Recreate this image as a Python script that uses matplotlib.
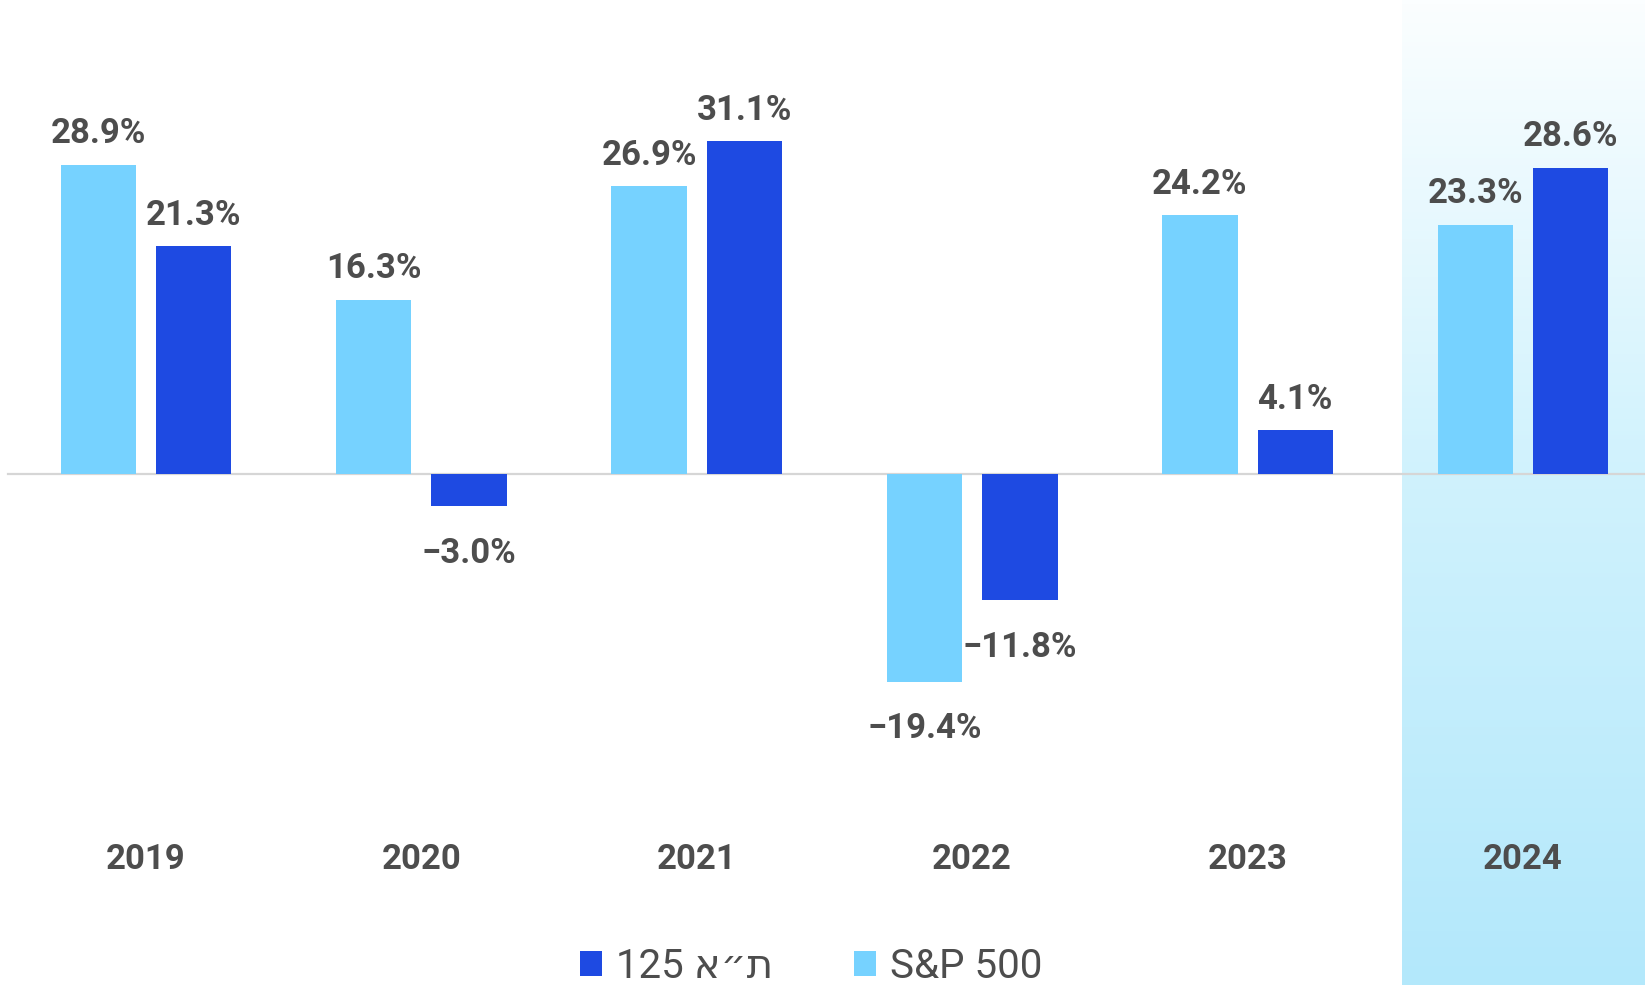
import numpy as np
import matplotlib.pyplot as plt
from matplotlib.colors import LinearSegmentedColormap

years = ['2019', '2020', '2021', '2022', '2023', '2024']
sp500 = [28.9, 16.3, 26.9, -19.4, 24.2, 23.3]
ta125 = [21.3, -3.0, 31.1, -11.8, 4.1, 28.6]
series_names = ['125 א״ת', 'S&P 500']

c_light = '#76d2ff'
c_dark = '#1e4ae2'
c_text = '#4d4d4d'

plt.rcParams['font.family'] = ['Roboto', 'DejaVu Sans']

fig = plt.figure(figsize=(16.45, 9.85), dpi=100)
ax = fig.add_axes([0, 0, 1, 1])
ax.set_xlim(-0.530, 5.443)
ax.set_ylim(-47.75, 44.3)
ax.axis('off')

x = np.arange(len(years))
off = 0.173
w = 0.274

# highlighted last year band with vertical gradient
cmap = LinearSegmentedColormap.from_list(
    'band', [(0.0, '#b3e8fb'), (0.52, '#d0f2fd'), (1.0, '#fbfeff')])
grad = np.linspace(0, 1, 256).reshape(-1, 1)
ax.imshow(grad, extent=(4.559, 5.443, -47.75, 44.3), origin='lower',
          cmap=cmap, aspect='auto', zorder=0)

ax.axhline(0, xmin=8 / 1645, xmax=1, color='#d6d6d6', lw=1.6, zorder=1)

b1 = ax.bar(x - off, sp500, w, color=c_light, zorder=2)
b2 = ax.bar(x + off, ta125, w, color=c_dark, zorder=2)

for bars, vals in [(b1, sp500), (b2, ta125)]:
    for rect, v in zip(bars, vals):
        cx = rect.get_x() + rect.get_width() / 2
        txt = f'{v:.1f}%'.replace('-', '\u2212')
        if v >= 0:
            ax.annotate(txt, (cx, v), xytext=(0, 15.5), textcoords='offset points',
                        ha='center', va='baseline', fontsize=25,
                        fontweight='bold', color=c_text)
        else:
            ax.annotate(txt, (cx, v), xytext=(0, -22), textcoords='offset points',
                        ha='center', va='top', fontsize=25,
                        fontweight='bold', color=c_text)

for xi, yr in zip(x, years):
    ax.text(xi, -36.0, yr, ha='center', va='center', fontsize=25,
            fontweight='bold', color=c_text)

leg = fig.legend([b2, b1], series_names, loc='center', ncol=2,
                 bbox_to_anchor=(0.493, 0.019), frameon=False,
                 fontsize=29, labelcolor=c_text, handlelength=0.55,
                 handleheight=0.55, handletextpad=0.35, columnspacing=2.0)

fig.savefig('out.png', dpi=100)
